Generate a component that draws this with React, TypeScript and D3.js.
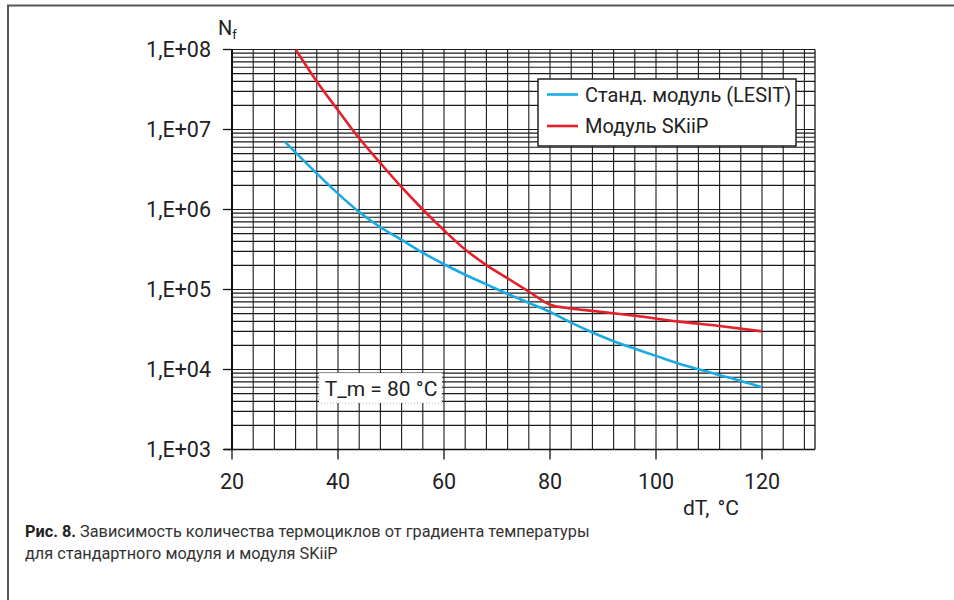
import React from "react";
import * as d3 from "d3";

const lesitDT = [30, 36, 40, 44, 48, 52, 56, 60, 64, 68, 72, 76, 80, 84, 88, 92, 96, 100, 104, 108, 112, 116, 120];
const lesitN = [7.0e6, 2.82e6, 1.58e6, 9.3e5, 6.0e5, 4.17e5, 2.88e5, 2.07e5, 1.53e5, 1.16e5, 8.8e4, 6.8e4, 5.25e4, 3.85e4, 2.9e4, 2.26e4, 1.82e4, 1.48e4, 1.2e4, 1.01e4, 8.5e3, 7.2e3, 6.0e3];

const skiipDT = [32, 36, 40, 44, 48, 52, 56, 60, 64, 68, 72, 76, 80, 84, 88, 96, 104, 112, 120];
const skiipN = [1.0e8, 3.98e7, 1.74e7, 7.76e6, 3.8e6, 1.9e6, 1.0e6, 5.5e5, 3.16e5, 2.02e5, 1.38e5, 9.44e4, 6.46e4, 5.8e4, 5.4e4, 4.7e4, 4.0e4, 3.5e4, 3.0e4];

const yTicks = [1e3, 1e4, 1e5, 1e6, 1e7, 1e8];
const yTickLabels = ["1,E+03", "1,E+04", "1,E+05", "1,E+06", "1,E+07", "1,E+08"];
const xTicks = [20, 40, 60, 80, 100, 120];
const seriesNames = ["Станд. модуль (LESIT)", "Модуль SKiiP"];
const seriesColors = ["#1aaae4", "#e5202a"];

const FONT = "Roboto, 'Noto Sans', sans-serif";

export default function App() {
  const left = 232, right = 815, top = 49.5, bottom = 449.5;
  const x = d3.scaleLinear().domain([20, 130]).range([left, right]);
  const y = d3.scaleLog().domain([1e3, 1e8]).range([bottom, top]);

  const vGrid = d3.range(20, 129, 4);
  const hGrid: number[] = [];
  for (let e = 3; e < 8; e++) for (let k = 1; k <= 9; k++) hGrid.push(k * Math.pow(10, e));
  hGrid.push(1e8);

  const line = d3
    .line<[number, number]>()
    .x((d) => x(d[0]))
    .y((d) => y(d[1]))
    .curve(d3.curveMonotoneX);

  const lesit = lesitDT.map((d, i) => [d, lesitN[i]] as [number, number]);
  const skiip = skiipDT.map((d, i) => [d, skiipN[i]] as [number, number]);

  const gridColor = "#1a1a1a";
  const legendY = [94.5, 126];

  return (
    <svg width={954} height={600} style={{ position: "absolute", left: 0, top: 0, display: "block" }}>
      <rect x={0} y={0} width={954} height={600} fill="#fff" />
      {/* outer frame */}
      <rect x={8} y={5.5} width={1000} height={700} fill="none" stroke="#555" strokeWidth={2} />

      {/* horizontal grid */}
      {hGrid.map((v, i) => (
        <line key={"h" + i} x1={left} x2={right} y1={y(v)} y2={y(v)} stroke={gridColor} strokeWidth={1.1} />
      ))}
      {/* vertical grid */}
      {vGrid.map((v, i) => (
        <line key={"v" + i} x1={x(v)} x2={x(v)} y1={top} y2={bottom} stroke={gridColor} strokeWidth={1.1} />
      ))}
      <line x1={x(130)} x2={x(130)} y1={top} y2={bottom} stroke={gridColor} strokeWidth={1.3} />
      {/* axes */}
      <line x1={left} x2={left} y1={top} y2={bottom} stroke="#111" strokeWidth={2} />
      <line x1={left - 8} x2={right} y1={bottom} y2={bottom} stroke="#111" strokeWidth={1.5} />
      {yTicks.map((v, i) => (
        <g key={"yt" + i}>
          <line x1={left - 9} x2={left} y1={y(v)} y2={y(v)} stroke="#111" strokeWidth={1.3} />
          <text x={211} y={y(v)} dy="0.36em" textAnchor="end" fontFamily={FONT} fontSize={21.5} fill="#222">
            {yTickLabels[i]}
          </text>
        </g>
      ))}
      {xTicks.map((v, i) => (
        <g key={"xt" + i}>
          <line x1={x(v)} x2={x(v)} y1={bottom} y2={bottom + 10} stroke="#111" strokeWidth={1.3} />
          <text x={x(v)} y={488.5} textAnchor="middle" fontFamily={FONT} fontSize={21.5} fill="#222">
            {v}
          </text>
        </g>
      ))}

      {/* curves */}
      <path d={line(lesit) || ""} fill="none" stroke={seriesColors[0]} strokeWidth={2.6} />
      <path d={line(skiip) || ""} fill="none" stroke={seriesColors[1]} strokeWidth={2.6} />

      {/* axis titles */}
      <text x={218} y={35} fontFamily={FONT} fontSize={20} fill="#222">
        N<tspan fontSize={13} dy={4}>f</tspan>
      </text>
      <text x={683} y={515} fontFamily={FONT} fontSize={21} fill="#222" wordSpacing={3}>
        dT, °C
      </text>

      {/* legend */}
      <rect x={538} y={79} width={258} height={67} fill="#fff" stroke="#222" strokeWidth={1.5} />
      {seriesNames.map((s, i) => (
        <g key={"lg" + i}>
          <line x1={547} x2={578} y1={legendY[i]} y2={legendY[i]} stroke={seriesColors[i]} strokeWidth={2.6} />
          <text x={585} y={legendY[i]} dy="0.36em" fontFamily={FONT} fontSize={20} fill="#222">
            {s}
          </text>
        </g>
      ))}

      {/* T_m annotation */}
      <rect x={319} y={373} width={123} height={30} fill="#fff" stroke="#bbb" strokeWidth={1} strokeDasharray="1,2" />
      <text x={381} y={388} dy="0.36em" textAnchor="middle" fontFamily={FONT} fontSize={21} fill="#222">
        T_m = 80 °C
      </text>

      {/* caption */}
      <text x={25} y={537} fontFamily={FONT} fontSize={16.3} fill="#333">
        <tspan fontWeight="bold" fill="#222">Рис. 8.</tspan> Зависимость количества термоциклов от градиента температуры
      </text>
      <text x={25} y={559} fontFamily={FONT} fontSize={16.3} fill="#333">
        для стандартного модуля и модуля SKiiP
      </text>
    </svg>
  );
}
